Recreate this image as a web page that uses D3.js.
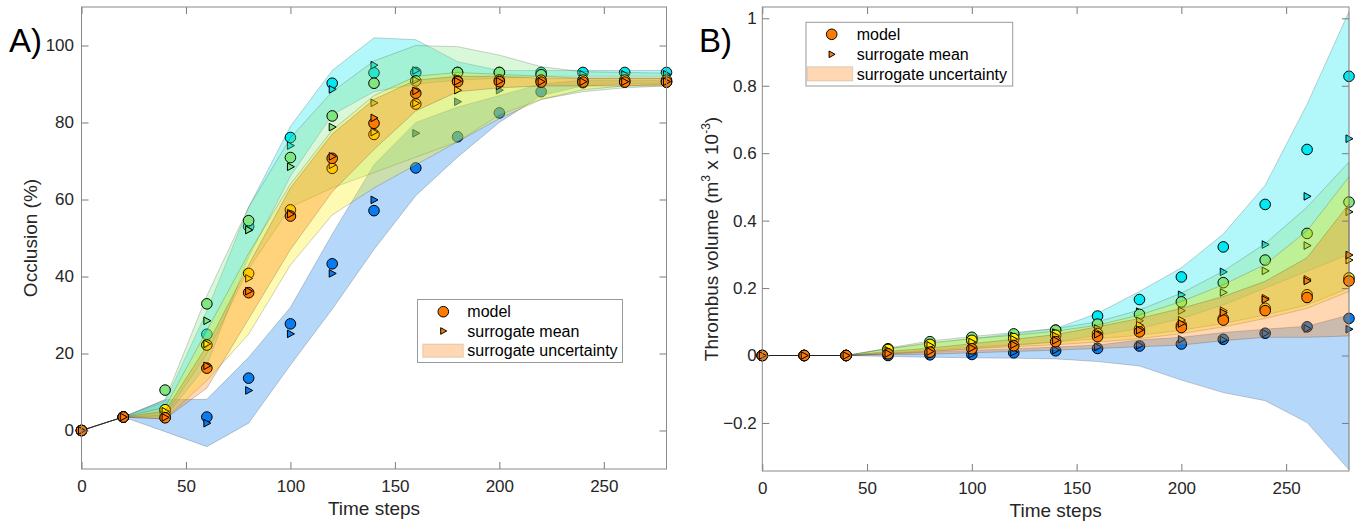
<!DOCTYPE html>
<html><head><meta charset="utf-8">
<script src="https://cdn.jsdelivr.net/npm/d3@7"></script>
<style>
body{margin:0;background:#fff;}
svg{display:block;font-family:"Liberation Sans",Arial,Helvetica,sans-serif;}
</style>
</head><body>
<svg id="c" width="1355" height="525"></svg>
<script>
// ---------- data ----------
const timeSteps = [0,20,40,60,80,100,120,140,160,180,200,220,240,260,280];
const xTicks = [0,50,100,150,200,250];
const yTicksA = [0,20,40,60,80,100];
const yTicksB = [-0.2,0,0.2,0.4,0.6,0.8,1];
const seriesColors = ["#0a7cf0","#00e8f2","#80e680","#ffee00","#ff7a00"];
const legendLabels = ["model","surrogate mean","surrogate uncertainty"];

// Panel A : occlusion (%)
const blueModelA  = [0,3.5,3.4,3.5,13.6,27.7,43.3,57.1,68.2,76.3,82.5,88,90.3,90.5,90.5];
const blueMeanA   = [0,3.5,3.3,1.9,10.4,25.1,40.8,59.9,77.2,85.4,88.4,90,90.5,90.5,90.5];
const blueLoA     = [0,3.5,-0.3,-4.2,1.9,17,31.5,47,61,71,80,87,89.5,90,90];
const blueHiA     = [0,3.5,8,8.1,19,32,51,69,80,84,87,90,91,91,91];

const cyanModelA  = [0,3.5,4.5,25,53,76.1,90.2,92.9,93,93,93,93,93,93,93];
const cyanMeanA   = [0,3.5,4,22,52.1,74,88.6,94.9,93.5,92.5,92.5,92.5,92.5,92.5,92.5];
const cyanLoA     = [0,3.5,3.5,17,45,66,82,88,90,91,91.5,92,92,92,92];
const cyanHiA     = [0,3.5,7.5,31,58,79,93.5,102,101.5,95.8,93.5,93.5,93.5,93.5,93.5];

const greenModelA = [0,3.5,10.5,32.9,54.5,70.9,81.7,90.2,90.8,93,93,92.4,90.8,90.7,90.7];
const greenMeanA  = [0,3.5,5.5,28.5,52.1,68.5,78.8,85.1,91,91.5,91,91,91,91,91];
const greenLoA    = [0,3.5,4,20,42,58,63,67,71,75,82,86,88,89,89.5];
const greenHiA    = [0,3.5,8,35,58,76,88,96,100,99.7,97.5,94.5,93.2,93,92.8];

const yellowModelA= [0,3.5,5.4,22.2,40.8,57.3,68.1,76.9,84.8,90.8,91,91,91,91,91];
const yellowMeanA = [0,3.5,5,22.5,39.5,56.5,69,77.5,85,88.4,89.5,90.5,90.5,90.5,90.5];
const yellowLoA   = [0,3.5,3,13,25,43,56,63,69,75,81,86,88.5,89.5,90];
const yellowHiA   = [0,3.5,6,26,46,64,78,87,92,93,92.5,92,91.5,91.5,91.5];

const orangeModelA= [0,3.5,3.3,16.2,35.8,55.7,70.7,79.8,87.6,90.6,90.6,90.5,90.5,90.5,90.5];
const orangeMeanA = [0,3.5,3.4,16.8,36.2,56.2,71.2,81.2,88.2,90.7,90.7,90.6,90.6,90.6,90.6];
const orangeLoA   = [0,3.5,3,11,29,47,62,73,83,88,89,89.5,89.5,89.5,89.5];
const orangeHiA   = [0,3.5,5,22,43,63,77,86,91,92,92,91.5,91.5,91.5,91.5];

// Panel B : thrombus volume (m^3 x 10^-3)
const blueModelB  = [0,0,0,0,0.002,0.003,0.008,0.014,0.021,0.028,0.034,0.048,0.066,0.085,0.110];
const blueMeanB   = [0,0,0,0.001,0.002,0.004,0.010,0.016,0.025,0.030,0.048,0.046,0.066,0.080,0.078];
const blueLoB     = [0,0,0,-0.003,-0.005,-0.007,-0.008,-0.010,-0.018,-0.031,-0.073,-0.110,-0.134,-0.199,-0.339];
const blueHiB     = [0,0,0,0.005,0.010,0.015,0.020,0.025,0.031,0.046,0.054,0.068,0.078,0.087,0.120];

const cyanModelB  = [0,0,0,0.015,0.030,0.045,0.060,0.075,0.117,0.166,0.233,0.322,0.448,0.611,0.828];
const cyanMeanB   = [0,0,0,0.012,0.025,0.038,0.050,0.065,0.090,0.130,0.180,0.248,0.329,0.472,0.643];
const cyanLoB     = [0,0,0,0.005,0.012,0.020,0.030,0.040,0.060,0.080,0.110,0.150,0.200,0.250,0.300];
const cyanHiB     = [0,0,0,0.020,0.035,0.050,0.065,0.080,0.125,0.190,0.260,0.360,0.505,0.745,1.020];

const greenModelB = [0,0,0,0.020,0.041,0.054,0.064,0.075,0.093,0.122,0.159,0.216,0.283,0.362,0.455];
const greenMeanB  = [0,0,0,0.018,0.035,0.048,0.058,0.068,0.080,0.103,0.133,0.187,0.251,0.326,0.426];
const greenLoB    = [0,0,0,0.008,0.015,0.025,0.032,0.040,0.050,0.060,0.075,0.095,0.120,0.150,0.200];
const greenHiB    = [0,0,0,0.022,0.043,0.056,0.068,0.080,0.100,0.135,0.185,0.250,0.332,0.440,0.574];

const yellowModelB= [0,0,0,0.018,0.033,0.045,0.050,0.060,0.065,0.078,0.090,0.110,0.140,0.180,0.230];
const yellowMeanB = [0,0,0,0.015,0.030,0.040,0.048,0.058,0.068,0.090,0.105,0.133,0.170,0.226,0.283];
const yellowLoB   = [0,0,0,0.006,0.012,0.020,0.026,0.032,0.040,0.050,0.065,0.085,0.110,0.140,0.190];
const yellowHiB   = [0,0,0,0.020,0.038,0.050,0.060,0.072,0.090,0.120,0.160,0.210,0.270,0.370,0.530];

const orangeModelB= [0,0,0,0.005,0.010,0.020,0.029,0.041,0.056,0.070,0.083,0.105,0.133,0.172,0.221];
const orangeMeanB = [0,0,0,0.006,0.012,0.022,0.032,0.045,0.063,0.075,0.095,0.127,0.166,0.221,0.298];
const orangeLoB   = [0,0,0,0.002,0.004,0.008,0.012,0.016,0.021,0.026,0.031,0.044,0.054,0.054,0.058];
const orangeHiB   = [0,0,0,0.012,0.022,0.035,0.048,0.062,0.085,0.110,0.140,0.175,0.220,0.290,0.450];

// ---------- build series tables ----------
const panelASeries = [
  {model:blueModelA, mean:blueMeanA, lo:blueLoA, hi:blueHiA},
  {model:cyanModelA, mean:cyanMeanA, lo:cyanLoA, hi:cyanHiA},
  {model:greenModelA, mean:greenMeanA, lo:greenLoA, hi:greenHiA},
  {model:yellowModelA, mean:yellowMeanA, lo:yellowLoA, hi:yellowHiA},
  {model:orangeModelA, mean:orangeMeanA, lo:orangeLoA, hi:orangeHiA}
];
const panelBSeries = [
  {model:blueModelB, mean:blueMeanB, lo:blueLoB, hi:blueHiB},
  {model:cyanModelB, mean:cyanMeanB, lo:cyanLoB, hi:cyanHiB},
  {model:greenModelB, mean:greenMeanB, lo:greenLoB, hi:greenHiB},
  {model:yellowModelB, mean:yellowMeanB, lo:yellowLoB, hi:yellowHiB},
  {model:orangeModelB, mean:orangeMeanB, lo:orangeLoB, hi:orangeHiB}
];

const svg = d3.select("#c");
const FILL_ALPHA = 0.3;
const triPath = "M-3,-3.8L4,0L-3,3.8Z";

function drawPanel(cfg){
  const {x, y, series, yTicks, yFmt, yPad} = cfg;
  const [x0,x1] = x.range();
  const [y0,y1] = y.range(); // y0 bottom, y1 top
  const g = svg.append("g");

  series.forEach((s,i)=>{
    const col = seriesColors[i];
    const area = d3.area()
      .x((d,j)=>x(timeSteps[j]))
      .y0((d,j)=>y(s.lo[j]))
      .y1((d,j)=>y(s.hi[j]));
    g.append("path").datum(s.lo).attr("d", area)
      .attr("fill", col).attr("fill-opacity", FILL_ALPHA)
      .attr("stroke", "#000").attr("stroke-opacity", 0.18).attr("stroke-width", 1)
      .attr("stroke-linejoin","round");
    g.append("g").selectAll("circle").data(s.model).join("circle")
      .attr("cx",(d,j)=>x(timeSteps[j])).attr("cy",d=>y(d)).attr("r",5.3)
      .attr("fill", col).attr("stroke","#000").attr("stroke-width",1);
    g.append("g").selectAll("path").data(s.mean).join("path")
      .attr("d", triPath)
      .attr("transform",(d,j)=>`translate(${x(timeSteps[j])},${y(d)})`)
      .attr("fill", col).attr("stroke","#000").attr("stroke-width",1);
  });

  // axes
  const ax = svg.append("g").attr("font-family",'"Liberation Sans",Arial,sans-serif');
  const bottom = ax.append("g").attr("transform",`translate(0,${y0})`)
    .call(d3.axisBottom(x).tickValues(xTicks).tickSize(-7).tickPadding(10.5).tickFormat(d3.format("d")));
  const top = ax.append("g").attr("transform",`translate(0,${y1})`)
    .call(d3.axisTop(x).tickValues(xTicks).tickSize(-7).tickFormat(""));
  const left = ax.append("g").attr("transform",`translate(${x0},0)`)
    .call(d3.axisLeft(y).tickValues(yTicks).tickSize(-7).tickPadding(yPad).tickFormat(yFmt));
  const right = ax.append("g").attr("transform",`translate(${x1},0)`)
    .call(d3.axisRight(y).tickValues(yTicks).tickSize(-7).tickFormat(""));
  [bottom,top,left,right].forEach(a=>{
    a.select(".domain").remove();
    a.selectAll(".tick line").attr("stroke","#7a7a7a");
    a.selectAll("text").attr("font-size",17).attr("fill","#262626");
  });
  ax.append("rect").attr("x",x0).attr("y",y1).attr("width",x1-x0).attr("height",y0-y1)
    .attr("fill","none").attr("stroke","#8a8a8a").attr("stroke-width",1);

  // x label
  ax.append("text").attr("x",(x0+x1)/2).attr("y",cfg.xLabelY).attr("text-anchor","middle")
    .attr("font-size",19).attr("fill","#262626").text("Time steps");
  return g;
}

function drawLegend(lx, ly, w, h, rowYs, circleX, textX, patch){
  const g = svg.append("g");
  g.append("rect").attr("x",lx).attr("y",ly).attr("width",w).attr("height",h)
    .attr("fill","#fff").attr("stroke","#9a9a9a").attr("stroke-width",1);
  const col = seriesColors[4];
  g.append("circle").attr("cx",circleX).attr("cy",rowYs[0]).attr("r",5.3)
    .attr("fill",col).attr("stroke","#000");
  g.append("path").attr("d","M-2.6,-3.3L3.4,0L-2.6,3.3Z").attr("transform",`translate(${circleX},${rowYs[1]})`)
    .attr("fill",col).attr("stroke","#000");
  g.append("rect").attr("x",patch[0]).attr("y",patch[1]).attr("width",patch[2]).attr("height",patch[3])
    .attr("fill",col).attr("fill-opacity",FILL_ALPHA).attr("stroke","#000").attr("stroke-opacity",0.12);
  legendLabels.forEach((t,i)=>{
    g.append("text").attr("x",textX).attr("y",rowYs[i]).attr("dy","0.35em")
      .attr("font-size",16).attr("fill","#000").text(t);
  });
}

// Panel A
const xA = d3.scaleLinear().domain([0,280]).range([81.5,666.5]);
const yA = d3.scaleLinear().domain([-10,110]).range([469,7]);
drawPanel({x:xA, y:yA, series:panelASeries, yTicks:yTicksA, yFmt:d3.format("d"), yPad:7.5, xLabelY:515});
svg.append("text").attr("transform","translate(37,238) rotate(-90)").attr("text-anchor","middle")
  .attr("font-size",19).attr("fill","#262626").text("Occlusion (%)");
drawLegend(417.5, 299.5, 205, 63, [311.7,331,350.7], 443.3, 467.3, [422.7,344,40.6,13.3]);
svg.append("text").attr("x",9).attr("y",52).attr("font-size",33).attr("fill","#000").text("A)");

// Panel B
const xB = d3.scaleLinear().domain([0,280]).range([762.3,1349]);
const yB = d3.scaleLinear().domain([-0.3425,1.0335]).range([471,7]);
drawPanel({x:xB, y:yB, series:panelBSeries, yTicks:yTicksB, yFmt:d=>d3.format("")(d), yPad:5.6, xLabelY:517});
const yl = svg.append("text").attr("transform","translate(718,239) rotate(-90)").attr("text-anchor","middle")
  .attr("font-size",19).attr("fill","#262626");
yl.append("tspan").text("Thrombus volume (m");
yl.append("tspan").attr("font-size",12).attr("dy",-8).text("3");
yl.append("tspan").attr("dy",8).text(" x 10");
yl.append("tspan").attr("font-size",12).attr("dy",-8).text("-3");
yl.append("tspan").attr("dy",8).text(")");
drawLegend(806, 22.3, 206.7, 63.7, [34.3,54.3,74], 831.7, 856.7, [807.3,66.7,45.4,14.3]);
svg.append("text").attr("x",699).attr("y",52).attr("font-size",33).attr("fill","#000").text("B)");
</script>
</body></html>
